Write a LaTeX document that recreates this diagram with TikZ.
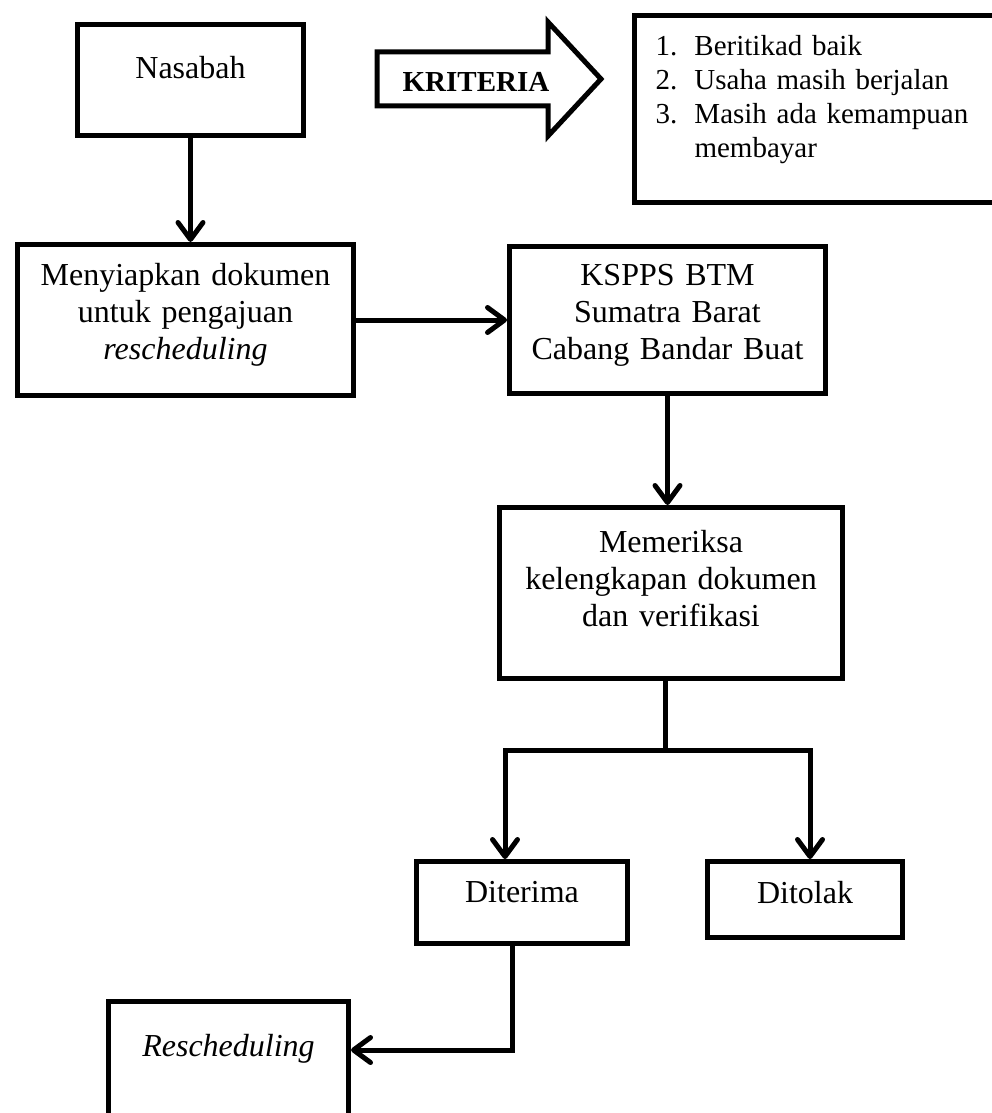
\documentclass[tikz,border=0pt]{standalone}
\usepackage{fontspec}
\setmainfont{Liberation Serif}
\usetikzlibrary{positioning,arrows.meta}

\begin{document}
\begin{tikzpicture}[x=1pt,y=-1pt,
	kotak/.style n args={3}{draw, line width=5pt, inner sep=0pt, anchor=north west, align=center,
		text width=#1, text height=#2, text depth=#3, font=\fontsize{32}{36.8}\selectfont},
	panah/.style={line width=5pt, -{Straight Barb[length=17pt,width=25pt,round]}},
	garis/.style={line width=5pt}]
				\useasboundingbox (0,0) rectangle (991,1113);
				\node[kotak={226pt}{54pt}{57pt}] (nasabah) at (75,22) {Nasabah};
				\node[kotak={336pt}{41pt}{110pt}] (menyiapkan) at (15,242) {Menyiapkan dokumen\\ untuk pengajuan\\ \textit{rescheduling}};
				\node[kotak={316pt}{39pt}{108pt}] (kspps) at (507,244) {KSPPS BTM\\ Sumatra Barat\\ Cabang Bandar Buat};
				\node[kotak={343pt}{45pt}{126pt}] (memeriksa) at (497,505) {Memeriksa\\ kelengkapan dokumen\\ dan verifikasi};
				\node[kotak={211pt}{41pt}{41pt}] (diterima) at (414,859) {Diterima};
				\node[kotak={195pt}{42pt}{34pt}] (ditolak) at (705,859) {Ditolak};
				\node[kotak={240pt}{55pt}{100pt}] (resched) at (106,999) {\textit{Rescheduling}};
				\node[kotak={340pt}{40pt}{147pt}, inner xsep=21pt, align=left, font=\fontsize{29}{34}\selectfont] (kriteria) at (632,13)
					{\makebox[39pt][l]{1.}Beritikad baik\\ \makebox[39pt][l]{2.}Usaha masih berjalan\\ \makebox[39pt][l]{3.}Masih ada kemampuan\\ \hspace*{39pt}membayar};
				% panah blok
				\draw[line width=5pt] (377,52) -- (548,52) -- (548,22) -- (601,79) -- (548,136) -- (548,106) -- (377,106) -- cycle;
				\node[font=\bfseries\fontsize{29}{33}\selectfont, anchor=base] (judul) at (476,92) {KRITERIA};
				\coordinate (cabang) at (665,750);
				\coordinate (kiri) at (505,750);
				\coordinate (kanan) at (810,750);
				\coordinate (belok) at (512,1050);
				\draw[panah] (nasabah.south) -- (nasabah.south |- menyiapkan.north);
				\draw[panah] (menyiapkan.east) -- (kspps.west);
				\draw[panah] (kspps.south) -- (kspps.south |- memeriksa.north);
				\draw[garis] (memeriksa.south -| cabang) -- (cabang);
				\draw[panah] (cabang) -- (kiri) -- (kiri |- diterima.north);
				\draw[panah] (cabang) -- (kanan) -- (kanan |- ditolak.north);
				\draw[panah] (diterima.south -| belok) -- (belok) -- (belok -| resched.east);
\end{tikzpicture}
\end{document}
